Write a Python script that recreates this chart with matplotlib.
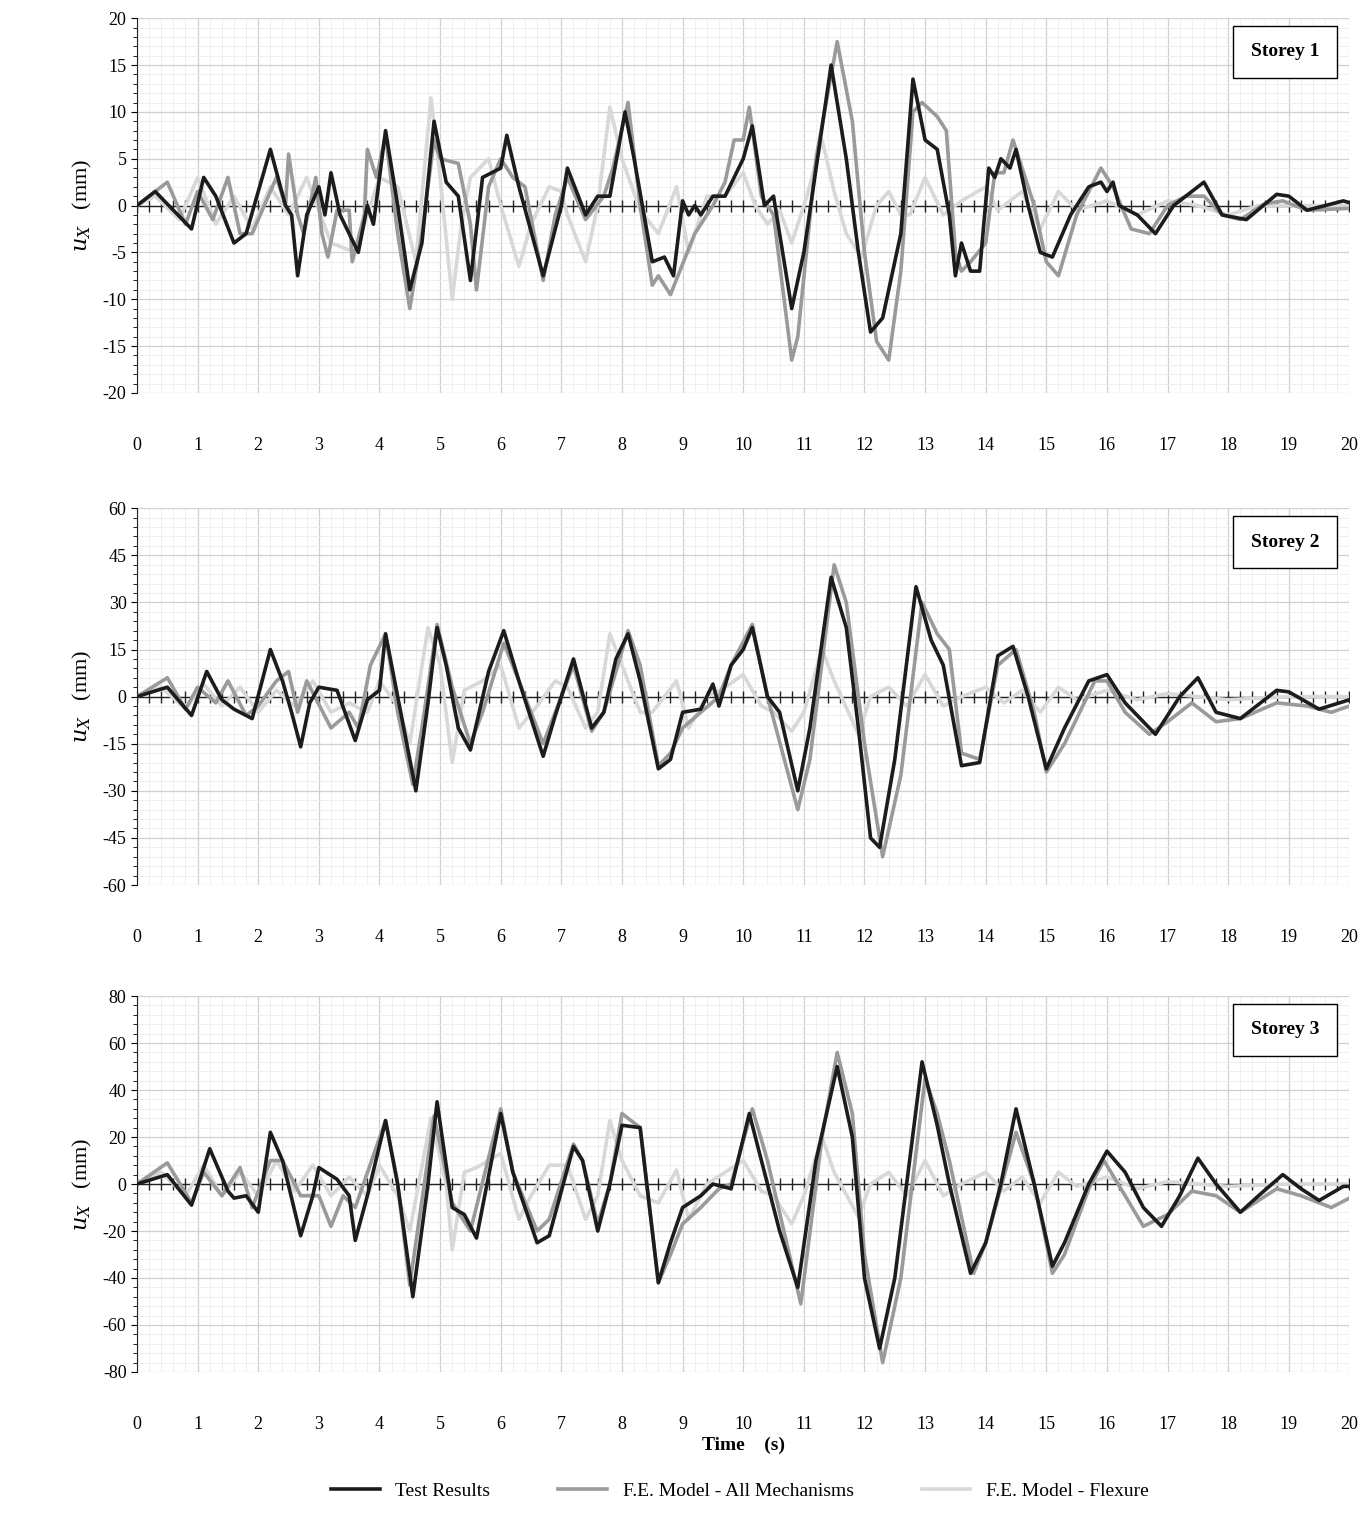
import numpy as np
import matplotlib.pyplot as plt
from matplotlib.ticker import MultipleLocator

plt.rcParams['font.family'] = ['Liberation Serif', 'DejaVu Serif']
plt.rcParams['mathtext.fontset'] = 'dejavuserif'
plt.rcParams['axes.unicode_minus'] = False

# ---- data: (time s, displacement mm) ----
s1_test_t = [0, 0.3, 0.9, 1.1, 1.3, 1.6, 1.8, 2.2, 2.45, 2.55, 2.65, 2.8, 3.0, 3.1, 3.2, 3.35, 3.65, 3.8, 3.9, 4.1, 4.3, 4.5, 4.7, 4.9, 5.1, 5.3, 5.5, 5.7, 6.0, 6.1, 6.3, 6.7, 7.0, 7.1, 7.4, 7.6, 7.8, 8.05, 8.2, 8.5, 8.7, 8.85, 9.0, 9.1, 9.2, 9.3, 9.5, 9.7, 10.0, 10.15, 10.35, 10.5, 10.8, 11.0, 11.45, 11.7, 11.9, 12.1, 12.3, 12.6, 12.8, 13.0, 13.2, 13.4, 13.5, 13.6, 13.75, 13.9, 14.05, 14.15, 14.25, 14.4, 14.5, 14.7, 14.9, 15.1, 15.4, 15.7, 15.9, 16.0, 16.1, 16.2, 16.5, 16.8, 17.1, 17.6, 17.9, 18.3, 18.8, 19.0, 19.3, 19.6, 19.9, 20]
s1_test_u = [0, 1.5, -2.5, 3, 1, -4, -3, 6, 0, -1, -7.5, -1, 2, -1, 3.5, -1, -5, 0, -2, 8, 0, -9, -4, 9, 2.5, 1, -8, 3, 4, 7.5, 2, -7.5, 0, 4, -1, 1, 1, 10, 5, -6, -5.5, -7.5, 0.5, -1, 0, -1, 1, 1, 5, 8.5, 0, 1, -11, -5, 15, 5, -5, -13.5, -12, -3, 13.5, 7, 6, -1, -7.5, -4, -7, -7, 4, 3, 5, 4, 6, 0, -5, -5.5, -1, 2, 2.5, 1.5, 2.5, 0, -1, -3, 0, 2.5, -1, -1.5, 1.2, 1, -0.5, 0, 0.5, 0.3]
s1_all_t = [0, 0.5, 0.8, 1.0, 1.25, 1.5, 1.7, 1.9, 2.1, 2.3, 2.45, 2.5, 2.65, 2.75, 2.95, 3.05, 3.15, 3.3, 3.5, 3.55, 3.75, 3.8, 3.95, 4.1, 4.3, 4.5, 4.7, 4.9, 5.0, 5.3, 5.5, 5.6, 5.8, 6.0, 6.2, 6.4, 6.7, 6.9, 7.1, 7.4, 7.7, 7.85, 8.1, 8.3, 8.5, 8.6, 8.8, 9.2, 9.5, 9.7, 9.85, 10.0, 10.1, 10.3, 10.5, 10.8, 10.9, 11.2, 11.55, 11.8, 12.0, 12.2, 12.4, 12.6, 12.8, 12.95, 13.2, 13.35, 13.5, 13.6, 13.75, 14.0, 14.15, 14.3, 14.45, 14.6, 14.8, 15.0, 15.2, 15.5, 15.9, 16.1, 16.4, 16.7, 17.0, 17.3, 17.6, 17.9, 18.2, 18.6, 18.9, 19.3, 20]
s1_all_u = [0, 2.5, -2, 1.5, -1.5, 3, -3, -3, 0, 3, 0, 5.5, -1, -3, 3, -3, -5.5, -0.5, -0.5, -6, -1, 6, 3, 7.5, -3, -11, -3, 7, 5, 4.5, -2, -9, 2, 5, 3, 2, -8, -1, 3, -1.5, 1, 4, 11, 0, -8.5, -7.5, -9.5, -3, 0, 2.5, 7, 7, 10.5, 1, -1, -16.5, -14, 5, 17.5, 9, -5, -14.5, -16.5, -7, 10, 11, 9.5, 8, -5, -7, -6, -4, 3.5, 3.5, 7, 4, 0, -6, -7.5, -1, 4, 2, -2.5, -3, 0, 1, 1, -1, -1.5, 0.2, 0.5, -0.5, -0.3]
s1_flex_t = [0, 0.3, 0.7, 1.0, 1.3, 1.6, 1.9, 2.2, 2.5, 2.8, 3.2, 3.6, 4.0, 4.3, 4.6, 4.85, 5.0, 5.2, 5.35, 5.5, 5.8, 6.0, 6.3, 6.5, 6.8, 7.0, 7.1, 7.4, 7.6, 7.8, 8.0, 8.3, 8.6, 8.9, 9.1, 9.4, 9.7, 10.0, 10.2, 10.4, 10.6, 10.8, 11.05, 11.3, 11.5, 11.7, 11.95, 12.2, 12.4, 12.6, 12.75, 13.0, 13.3, 13.6, 14.0, 14.2, 14.6, 14.9, 15.2, 15.5, 16.0, 16.5, 17.0, 17.5, 18.0, 18.5, 19.0, 20]
s1_flex_u = [0, 1, -1.5, 3, -2, 1, -2.5, 2, -1, 3, -4, -5, 3, 2, -6, 11.5, 3, -10, -2, 3, 5, 0, -6.5, -2, 2, 1.5, -1, -6, 0, 10.5, 5, -0.5, -3, 2, -5, 1, 1, 3.5, 0, -2, -0.5, -4, 1, 7, 1.5, -3, -5.5, 0, 1.5, -1, -1, 3, -1, 0.5, 2, -0.5, 1.5, -2.5, 1.5, -0.5, 0.5, -1, 0.5, 0, -1, 0, 0, 0]

s2_test_t = [0, 0.5, 0.9, 1.15, 1.4, 1.6, 1.9, 2.2, 2.4, 2.55, 2.7, 2.85, 3.0, 3.3, 3.6, 3.8, 4.0, 4.1, 4.25, 4.6, 4.8, 4.95, 5.1, 5.3, 5.5, 5.8, 6.05, 6.3, 6.7, 6.9, 7.2, 7.5, 7.7, 7.9, 8.1, 8.3, 8.6, 8.8, 9.0, 9.3, 9.5, 9.6, 9.8, 10.0, 10.15, 10.4, 10.6, 10.9, 11.1, 11.45, 11.7, 11.9, 12.1, 12.25, 12.5, 12.85, 13.1, 13.3, 13.6, 13.9, 14.2, 14.45, 14.7, 15.0, 15.3, 15.7, 16.0, 16.3, 16.8, 17.2, 17.5, 17.8, 18.2, 18.8, 19.0, 19.5, 20]
s2_test_u = [0, 3, -6, 8, -1, -4, -7, 15, 5, -5, -16, -2, 3, 2, -14, -1, 2, 20, 5, -30, -2, 22, 10, -10, -17, 8, 21, 5, -19, -6, 12, -10, -5, 12, 20, 5, -23, -20, -5, -4, 4, -3, 10, 15, 22, 0, -5, -30, -10, 38, 22, -10, -45, -48, -20, 35, 18, 10, -22, -21, 13, 16, 0, -23, -10, 5, 7, -2, -12, 0, 6, -5, -7, 2, 1.5, -4, -1]
s2_all_t = [0, 0.5, 0.8, 1.0, 1.3, 1.5, 1.8, 2.0, 2.3, 2.5, 2.65, 2.8, 3.2, 3.5, 3.65, 3.85, 4.1, 4.3, 4.55, 4.7, 4.95, 5.2, 5.5, 5.7, 6.05, 6.3, 6.7, 6.9, 7.2, 7.5, 7.7, 8.1, 8.3, 8.6, 8.8, 9.0, 9.3, 9.6, 9.8, 10.15, 10.4, 10.9, 11.1, 11.5, 11.7, 12.0, 12.3, 12.6, 12.95, 13.2, 13.4, 13.6, 13.9, 14.2, 14.5, 14.8, 15.0, 15.3, 15.8, 16.0, 16.3, 16.7, 17.0, 17.4, 17.8, 18.2, 18.8, 19.3, 19.7, 20]
s2_all_u = [0, 6, -4, 3, -2, 5, -6, -3, 5, 8, -5, 5, -10, -5, -10, 10, 20, -5, -28, -10, 23, 3, -15, -5, 17, 5, -15, -5, 10, -11, -5, 21, 10, -22, -18, -10, -5, 0, 10, 23, 0, -36, -20, 42, 30, -15, -51, -25, 30, 20, 15, -18, -20, 10, 15, -5, -24, -15, 5, 5, -5, -12, -8, -2, -8, -7, -2, -3, -5, -3]
s2_flex_t = [0, 0.4, 0.8, 1.1, 1.4, 1.7, 2.0, 2.3, 2.6, 2.9, 3.2, 3.5, 3.8, 4.0, 4.3, 4.5, 4.8, 5.0, 5.2, 5.4, 5.7, 6.0, 6.3, 6.6, 6.9, 7.1, 7.4, 7.6, 7.8, 8.0, 8.3, 8.5, 8.9, 9.1, 9.4, 9.7, 10.0, 10.3, 10.5, 10.8, 11.0, 11.3, 11.5, 11.9, 12.1, 12.4, 12.7, 13.0, 13.3, 13.6, 14.0, 14.3, 14.6, 14.9, 15.2, 15.5, 16.0, 16.5, 17.0, 18.0, 19.0, 20]
s2_flex_u = [0, 3, -4, 4, -3, 3, -5, 2, -3, 5, -5, -2, -5, 5, -3, -15, 22, 10, -21, 2, 5, 10, -10, -3, 5, 3, -10, -5, 20, 10, -5, -5, 5, -10, 0, 3, 7, -3, -5, -11, -5, 15, 5, -12, 0, 3, -3, 7, -3, 0, 3, -2, 2, -5, 3, -1, 2, -1, 1, -1, 0, 0]

s3_test_t = [0, 0.5, 0.9, 1.2, 1.5, 1.6, 1.8, 2.0, 2.2, 2.4, 2.7, 2.9, 3.0, 3.3, 3.5, 3.6, 3.8, 4.1, 4.3, 4.55, 4.8, 4.95, 5.2, 5.4, 5.6, 6.0, 6.2, 6.6, 6.8, 7.2, 7.35, 7.6, 7.8, 8.0, 8.3, 8.6, 8.8, 9.0, 9.3, 9.5, 9.8, 10.1, 10.3, 10.6, 10.9, 11.2, 11.55, 11.8, 12.0, 12.25, 12.5, 12.95, 13.2, 13.4, 13.75, 14.0, 14.25, 14.5, 14.8, 15.1, 15.3, 15.7, 16.0, 16.3, 16.6, 16.9, 17.2, 17.5, 17.8, 18.2, 18.5, 18.9, 19.2, 19.5, 19.9, 20]
s3_test_u = [0, 4, -9, 15, -3, -6, -5, -12, 22, 10, -22, -5, 7, 2, -5, -24, -5, 27, 0, -48, 0, 35, -10, -13, -23, 30, 5, -25, -22, 16, 10, -20, 0, 25, 24, -42, -25, -10, -5, 0, -2, 30, 10, -20, -44, 10, 50, 20, -40, -70, -40, 52, 25, 0, -38, -25, 0, 32, 0, -35, -25, 0, 14, 5, -10, -18, -5, 11, 0, -12, -5, 4, -2, -7, -1, -1]
s3_all_t = [0, 0.5, 0.9, 1.1, 1.4, 1.7, 1.9, 2.2, 2.4, 2.7, 3.0, 3.2, 3.4, 3.6, 4.1, 4.3, 4.5, 4.9, 5.2, 5.5, 6.0, 6.2, 6.6, 6.8, 7.2, 7.35, 7.6, 7.8, 8.0, 8.3, 8.6, 8.8, 9.0, 9.3, 9.6, 9.8, 10.15, 10.4, 10.95, 11.3, 11.55, 11.8, 12.0, 12.3, 12.6, 13.0, 13.2, 13.4, 13.8, 14.0, 14.5, 14.8, 15.1, 15.3, 15.7, 15.95, 16.3, 16.6, 17.0, 17.4, 17.8, 18.2, 18.8, 19.2, 19.7, 20]
s3_all_u = [0, 9, -8, 5, -5, 7, -10, 10, 10, -5, -5, -18, -5, -10, 27, 0, -43, 29, -8, -20, 32, 5, -20, -15, 17, 10, -17, 0, 30, 24, -42, -30, -17, -10, -2, 0, 32, 10, -51, 20, 56, 30, -30, -76, -40, 45, 30, 10, -38, -25, 22, 0, -38, -30, -2, 10, -5, -18, -13, -3, -5, -12, -2, -5, -10, -6]
s3_flex_t = [0, 0.4, 0.8, 1.1, 1.4, 1.7, 2.0, 2.3, 2.6, 2.9, 3.2, 3.5, 3.8, 4.0, 4.3, 4.5, 4.85, 5.1, 5.2, 5.4, 5.6, 6.0, 6.3, 6.5, 6.8, 7.1, 7.4, 7.6, 7.8, 8.0, 8.3, 8.6, 8.9, 9.1, 9.4, 9.7, 10.0, 10.3, 10.5, 10.8, 11.0, 11.3, 11.5, 11.9, 12.1, 12.4, 12.7, 13.0, 13.3, 13.6, 14.0, 14.3, 14.6, 14.9, 15.2, 15.5, 16.0, 16.5, 17.0, 18.0, 19.0, 20]
s3_flex_u = [0, 5, -5, 8, -5, 5, -5, 10, -3, 8, -5, 3, -5, 8, -5, -20, 28, 0, -28, 5, 7, 13, -15, -5, 8, 8, -15, -5, 27, 10, -5, -8, 6, -15, 0, 5, 10, -3, -5, -17, -5, 20, 5, -14, 0, 5, -5, 10, -5, 0, 5, -3, 3, -8, 5, -1, 3, -2, 1, -1, 0, 0]

storeys = ["Storey 1", "Storey 2", "Storey 3"]
y_limits = [20, 60, 80]
y_steps = [5, 15, 20]
series_names = ["Test Results", "F.E. Model - All Mechanisms", "F.E. Model - Flexure"]
series_colors = ["#1c1c1c", "#9a9a9a", "#d8d8d8"]

panels = [
    [(s1_test_t, s1_test_u), (s1_all_t, s1_all_u), (s1_flex_t, s1_flex_u)],
    [(s2_test_t, s2_test_u), (s2_all_t, s2_all_u), (s2_flex_t, s2_flex_u)],
    [(s3_test_t, s3_test_u), (s3_all_t, s3_all_u), (s3_flex_t, s3_flex_u)],
]

fig = plt.figure(figsize=(13.7, 15.17), dpi=100)
boxes = [(0.988, 0.741), (0.665, 0.4166), (0.3434, 0.0956)]
left, right = 0.1, 0.985
zero_ticks = np.arange(0, 20.01, 0.2)

for i, (top, bottom) in enumerate(boxes):
    ax = fig.add_axes([left, bottom, right - left, top - bottom])
    lim, step = y_limits[i], y_steps[i]
    ax.set_xlim(0, 20)
    ax.set_ylim(-lim, lim)
    ax.xaxis.set_major_locator(MultipleLocator(1))
    ax.xaxis.set_minor_locator(MultipleLocator(0.2))
    ax.yaxis.set_major_locator(MultipleLocator(step))
    ax.yaxis.set_minor_locator(MultipleLocator(step / 5))
    ax.grid(which='major', color='#d0d0d0', lw=0.9)
    ax.grid(which='minor', color='#ececec', lw=0.6)
    ax.set_axisbelow(True)
    for sp in ['top', 'right', 'bottom']:
        ax.spines[sp].set_visible(False)
    ax.spines['left'].set_color('#222222')
    ax.tick_params(axis='y', which='both', direction='out', labelsize=13, length=4)
    ax.tick_params(axis='y', which='minor', length=3)
    ax.tick_params(axis='x', which='both', length=0, labelsize=13, pad=32)
    # zero axis with crossing ticks
    ax.axhline(0, color='#222222', lw=1.0, zorder=2)
    ax.plot(zero_ticks, np.zeros_like(zero_ticks), ls='none', marker='|',
            ms=8, mew=1.0, color='#222222', zorder=2)

    # draw light first so dark sits on top
    for k in [2, 1, 0]:
        t, u = panels[i][k]
        ax.plot(t, u, color=series_colors[k], lw=2.6, label=series_names[k], zorder=3 + (2 - k))

    ax.text(0.975, 0.91, storeys[i], transform=ax.transAxes, ha='right', va='center',
            fontsize=14, fontweight='bold',
            bbox=dict(boxstyle='square,pad=0.9', fc='white', ec='black', lw=1))
    ax.set_ylabel(r'$u_X$   (mm)', fontsize=16, labelpad=6)
    if i == 2:
        ax.set_xlabel('Time    (s)', fontsize=14, fontweight='bold', labelpad=2)
        handles, labels = ax.get_legend_handles_labels()
        fig.legend(handles[::-1][:3], labels[::-1][:3], loc='lower center', ncol=3, frameon=False,
                   fontsize=14, bbox_to_anchor=(0.54, 0.0), columnspacing=3.5, handlelength=2.5)

fig.savefig('out.png', dpi=100)
